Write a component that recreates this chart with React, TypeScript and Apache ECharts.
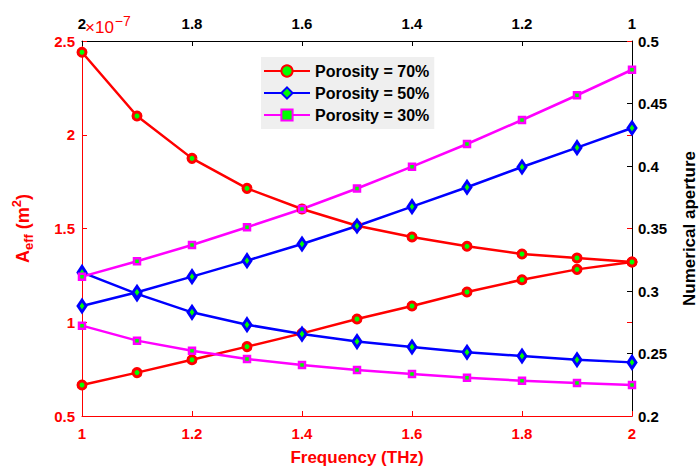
import React, { useEffect, useRef } from "react";
import * as echarts from "echarts";

const freq = [1, 1.1, 1.2, 1.3, 1.4, 1.5, 1.6, 1.7, 1.8, 1.9, 2];
const aeff70 = [2.44, 2.1, 1.874, 1.714, 1.604, 1.515, 1.455, 1.405, 1.364, 1.343, 1.321];
const aeff50 = [1.266, 1.151, 1.053, 0.987, 0.937, 0.897, 0.868, 0.84, 0.82, 0.8, 0.786];
const aeff30 = [0.982, 0.902, 0.848, 0.804, 0.772, 0.745, 0.724, 0.704, 0.688, 0.676, 0.665];
const na70 = [0.2248, 0.2347, 0.245, 0.2555, 0.2661, 0.2776, 0.288, 0.2992, 0.309, 0.3173, 0.3232];
const na50 = [0.288, 0.299, 0.3115, 0.3243, 0.3376, 0.352, 0.3675, 0.383, 0.3992, 0.4147, 0.4304];
const na30 = [0.3115, 0.3238, 0.3368, 0.351, 0.3656, 0.382, 0.3995, 0.4176, 0.4368, 0.4566, 0.477];
const seriesNames = ["Porosity = 70%", "Porosity = 50%", "Porosity = 30%"];

const FONT = "'Liberation Sans', Arial, Helvetica, sans-serif";
const GREEN = "#00ff00";

const pairs = (ys: number[]) => freq.map((x, i) => [x, ys[i]]);

export default function App() {
  const ref = useRef<HTMLDivElement>(null);
  useEffect(() => {
    if (!ref.current) return;
    const chart = echarts.init(ref.current, undefined, { renderer: "svg" });

    const styles = [
      { color: "#ff0000", symbol: "circle", size: 8 as any, bw: 3 },
      { color: "#0000ff", symbol: "diamond", size: [8, 12] as any, bw: 3 },
      { color: "#ff00ff", symbol: "rect", size: 6 as any, bw: 2.5 },
    ];
    const mk = (idx: number, data: number[], yAxisIndex: number) => {
      const s = styles[idx];
      return {
        type: "line",
        name: seriesNames[idx],
        yAxisIndex,
        data: pairs(data),
        symbol: s.symbol,
        symbolSize: s.size,
        showAllSymbol: true,
        lineStyle: { color: s.color, width: 2.5 },
        itemStyle: { color: GREEN, borderColor: s.color, borderWidth: s.bw },
        emphasis: { disabled: true },
        z: 3,
      };
    };

    const option: any = {
      animation: false,
      textStyle: { fontFamily: FONT },
      grid: { left: 82, right: 68, top: 41, bottom: 52, outerBoundsMode: "none", containLabel: false },
      legend: {
        data: seriesNames,
        orient: "vertical",
        left: 261,
        top: 57,
        backgroundColor: "#efefef",
        padding: [6, 5, 6, 2],
        itemWidth: 46,
        itemHeight: 14,
        itemGap: 6,
        textStyle: { fontFamily: FONT, fontWeight: "bold", fontSize: 16, color: "#000" },
      },
      xAxis: [
        {
          type: "value",
          position: "bottom",
          min: 1,
          max: 2,
          interval: 0.2,
          name: "Frequency (THz)",
          nameLocation: "middle",
          nameGap: 33,
          nameTextStyle: { fontFamily: FONT, fontWeight: "bold", fontSize: 17, color: "#ff0000" },
          axisLine: { lineStyle: { color: "#ff0000", width: 1 } },
          axisTick: { inside: true, length: 5, lineStyle: { color: "#ff0000" } },
          axisLabel: { color: "#ff0000", fontWeight: "bold", fontSize: 15, fontFamily: FONT, margin: 10 },
          splitLine: { show: false },
        },
        {
          type: "value",
          position: "top",
          min: 1,
          max: 2,
          interval: 0.2,
          inverse: true,
          axisLine: { lineStyle: { color: "#000", width: 1 } },
          axisTick: { inside: true, length: 5, lineStyle: { color: "#000" } },
          axisLabel: { color: "#000", fontWeight: "bold", fontSize: 15, fontFamily: FONT, margin: 10 },
          splitLine: { show: false },
        },
      ],
      yAxis: [
        {
          type: "value",
          position: "left",
          min: 0.5,
          max: 2.5,
          interval: 0.5,
          name: "{a|A}{s|eff}{a| (m}{p|2}{a|)}",
          nameLocation: "middle",
          nameGap: 47,
          nameTextStyle: {
            rich: {
              a: { fontFamily: FONT, fontWeight: "bold", fontSize: 18, color: "#ff0000" },
              s: { fontFamily: FONT, fontWeight: "bold", fontSize: 13, color: "#ff0000", padding: [12, 0, 0, 0] },
              p: { fontFamily: FONT, fontWeight: "bold", fontSize: 13, color: "#ff0000", padding: [0, 0, 12, 0] },
            },
          },
          axisLine: { show: true, lineStyle: { color: "#ff0000", width: 1 } },
          axisTick: { show: true, inside: true, length: 5, lineStyle: { color: "#ff0000" } },
          axisLabel: { color: "#ff0000", fontWeight: "bold", fontSize: 15, fontFamily: FONT, margin: 7 },
          splitLine: { show: false },
        },
        {
          type: "value",
          position: "right",
          min: 0.2,
          max: 0.5,
          interval: 0.05,
          name: "Numerical aperture",
          nameLocation: "middle",
          nameGap: 49,
          nameTextStyle: { fontFamily: FONT, fontWeight: "bold", fontSize: 17, color: "#000" },
          axisLine: { show: true, lineStyle: { color: "#000", width: 1 } },
          axisTick: { show: true, inside: true, length: 5, lineStyle: { color: "#000" } },
          axisLabel: { color: "#000", fontWeight: "bold", fontSize: 15, fontFamily: FONT, margin: 6 },
          splitLine: { show: false },
        },
        {
          type: "value",
          position: "right",
          min: 0.5,
          max: 2.5,
          interval: 0.5,
          axisLine: { show: false },
          axisTick: { show: true, inside: true, length: 5, lineStyle: { color: "#ff0000" } },
          axisLabel: { show: false },
          splitLine: { show: false },
        },
      ],
      graphic: [
        {
          type: "text",
          left: 85,
          top: 14,
          z: 10,
          style: {
            text: "{a|×10}{b|−7}",
            rich: {
              a: { fontFamily: FONT, fontSize: 17, fill: "#ff0000", color: "#ff0000" },
              b: { fontFamily: FONT, fontSize: 14, fill: "#ff0000", color: "#ff0000", padding: [0, 0, 12, 1] },
            },
          },
        },
      ],
      series: [
        mk(0, aeff70, 0),
        mk(0, na70, 1),
        mk(1, aeff50, 0),
        mk(1, na50, 1),
        mk(2, aeff30, 0),
        mk(2, na30, 1),
      ],
    };
    chart.setOption(option);
    return () => chart.dispose();
  }, []);
  return <div ref={ref} style={{ width: 700, height: 468, position: "absolute", left: 0, top: 0 }} />;
}
